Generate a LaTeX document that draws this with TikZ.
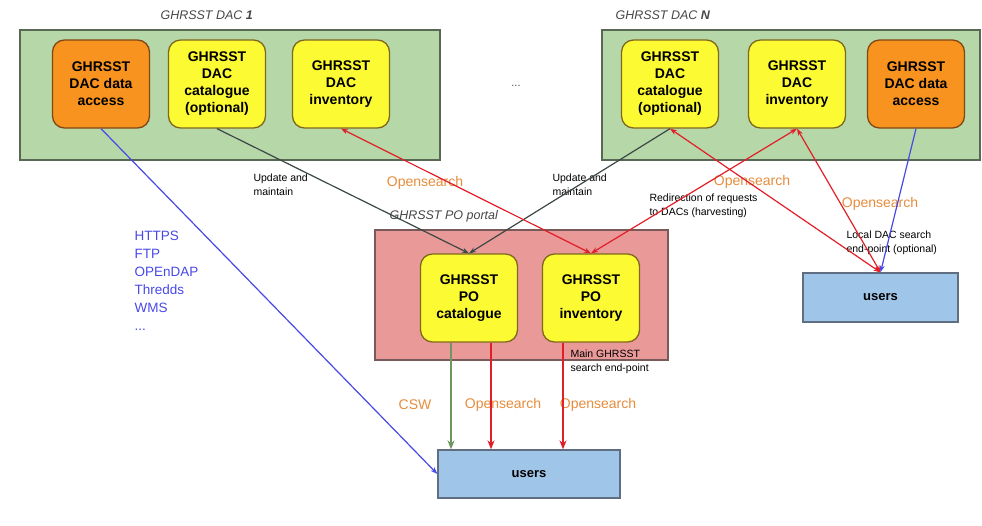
\documentclass[tikz,border=0pt]{standalone}
\usepackage{fontspec}
\setmainfont{Liberation Sans}
\usetikzlibrary{arrows.meta, positioning, calc}
\definecolor{DacGreen}{RGB}{182, 215, 168}
\definecolor{DacBorder}{RGB}{88, 104, 84}
\definecolor{CompYellow}{RGB}{252, 250, 50}
\definecolor{CompBorder}{RGB}{128, 104, 30}
\definecolor{AccessOrange}{RGB}{247, 147, 30}
\definecolor{AccessBorder}{RGB}{130, 72, 20}
\definecolor{PortalPink}{RGB}{234, 153, 153}
\definecolor{PortalBorder}{RGB}{120, 90, 90}
\definecolor{UsersBlue}{RGB}{159, 197, 232}
\definecolor{UsersBorder}{RGB}{95, 110, 128}
\definecolor{ProtoBlue}{RGB}{72, 72, 230}
\definecolor{SearchRed}{RGB}{226, 30, 40}
\definecolor{MaintainDark}{RGB}{60, 72, 68}
\definecolor{CswGreen}{RGB}{110, 150, 95}
\definecolor{SearchOrange}{RGB}{230, 140, 60}
\definecolor{TitleGray}{RGB}{70, 70, 70}

\begin{document}
\begin{tikzpicture}[x=1pt,y=-1pt,
    group/.style={draw=DacBorder, fill=DacGreen, line width=1.4pt},
    comp/.style={draw=CompBorder, fill=CompYellow, line width=1.3pt, rounded corners=12pt,
                 minimum width=97pt, minimum height=88pt, align=center, inner sep=2pt,
                 font=\fontsize{14}{17}\selectfont\bfseries},
    access/.style={comp, draw=AccessBorder, fill=AccessOrange},
    users/.style={draw=UsersBorder, fill=UsersBlue, line width=1.3pt,
                  font=\fontsize{13}{15}\selectfont\bfseries},
    title/.style={anchor=west, color=TitleGray, font=\fontsize{12.5}{15}\selectfont\itshape},
    note/.style={anchor=north west, align=left, font=\fontsize{10.5}{14}\selectfont},
    search/.style={color=SearchOrange, font=\fontsize{14}{16}\selectfont},
    link/.style={-{Stealth[length=7pt,width=5pt]}, line width=1.2pt},
    twoway/.style={{Stealth[length=7pt,width=5pt]}-{Stealth[length=7pt,width=5pt]}, line width=1.2pt},
    thicklink/.style={-{Stealth[length=9pt,width=7pt]}, line width=2.4pt}]
  \useasboundingbox (0,0) rectangle (982,525);
  \node[group, minimum width=420pt, minimum height=130pt] (dac1) at (230,95) {};
  \node[group, minimum width=378pt, minimum height=130pt] (dacN) at (791,95) {};
  \node[group, draw=PortalBorder, fill=PortalPink, minimum width=293pt, minimum height=130pt] (portal) at (521.5,295) {};
  \node[title] (dac1title) at (157,15) {GHRSST DAC \textbf{1}};
  \node[title] (dacNtitle) at (612,15) {GHRSST DAC \textbf{N}};
  \node[title] (portaltitle) at (386,216) {GHRSST PO portal};
  \node[access] (dac1access) at (101,84) {GHRSST\\DAC data\\access};
  \node[comp] (dac1cat) at (217,84) {GHRSST\\DAC\\catalogue\\(optional)};
  \node[comp] (dac1inv) at (341,84) {GHRSST\\DAC\\inventory};
  \node[comp] (dacNcat) at (670,84) {GHRSST\\DAC\\catalogue\\(optional)};
  \node[comp] (dacNinv) at (797,84) {GHRSST\\DAC\\inventory};
  \node[access] (dacNaccess) at (916,84) {GHRSST\\DAC data\\access};
  \node[color=TitleGray, font=\fontsize{11}{12}\selectfont] (dots) at (516,86) {...};
  \node[comp] (poCat) at (469,298) {GHRSST\\PO\\catalogue};
  \node[comp] (poInv) at (591,298) {GHRSST\\PO\\inventory};
  \node[users, minimum width=182pt, minimum height=48pt] (usersPO) at (529,474) {users};
  \node[users, minimum width=155pt, minimum height=49pt] (usersDAC) at (880.5,297.5) {users};
  \node[note] (upd1) at (250,170) {Update and\\maintain};
  \node[note] (updN) at (549,170) {Update and\\maintain};
  \node[note] (redirect) at (646,190) {Redirection of requests\\to DACs (harvesting)};
  \node[note] (localdac) at (843,227) {Local DAC search\\end-point (optional)};
  \node[note] (mainpt) at (567,346) {Main GHRSST\\search end-point};
  \node[search] (os1) at (425,183) {Opensearch};
  \node[search] (osN) at (752,182) {Opensearch};
  \node[search] (osLocal) at (880,204) {Opensearch};
  \node[search] (csw) at (415,405) {CSW};
  \node[search] (osCat) at (503,405) {Opensearch};
  \node[search] (osInv) at (598,405) {Opensearch};
  \node[anchor=north west, align=left, color=ProtoBlue, font=\fontsize{13.5}{18}\selectfont] (protocols) at (131,228) {HTTPS\\FTP\\OPEnDAP\\Thredds\\WMS\\...};
  \draw[link, ProtoBlue] (dac1access.south) -- (usersPO.west);
  \draw[link, MaintainDark] (dac1cat.south) -- (poCat.north);
  \draw[link, MaintainDark] (dacNcat.south) -- (poCat.north);
  \draw[twoway, SearchRed] (dac1inv.south) -- (poInv.north);
  \draw[twoway, SearchRed] (dacNinv.south) -- (poInv.north);
  \draw[twoway, SearchRed] (dacNcat.south) -- (usersDAC.north);
  \draw[twoway, SearchRed] (dacNinv.south) -- (usersDAC.north);
  \draw[link, ProtoBlue] (dacNaccess.south) -- (usersDAC.north);
  \draw[thicklink, CswGreen] ([xshift=-18pt]poCat.south) -- ([xshift=-18pt]poCat.south |- usersPO.north);
  \draw[thicklink, SearchRed] ([xshift=22pt]poCat.south) -- ([xshift=22pt]poCat.south |- usersPO.north);
  \draw[thicklink, SearchRed] ([xshift=-28pt]poInv.south) -- ([xshift=-28pt]poInv.south |- usersPO.north);
\end{tikzpicture}
\end{document}
